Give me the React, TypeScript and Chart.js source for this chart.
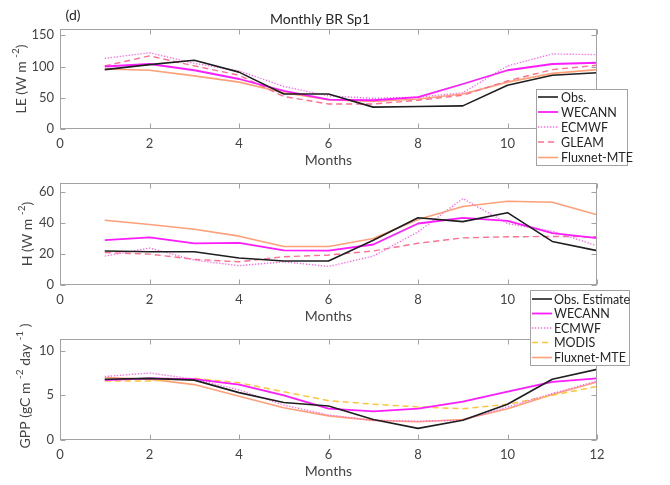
import React, { useEffect, useRef } from "react";
import { Chart, registerables } from "chart.js";

Chart.register(...registerables);

// ---------- data ----------
const months = [1, 2, 3, 4, 5, 6, 7, 8, 9, 10, 11, 12];
const xTickStep = 2;

// LE (W m-2)
const leObs = [95, 103, 110, 91, 56, 56, 35, 36, 37, 70, 86, 90];
const leWecann = [100, 104, 94, 80, 61, 47, 46, 51, 72, 94, 104, 106];
const leEcmwf = [113, 122, 105, 93, 68, 53, 49, 51, 58, 101, 120, 119];
const leGleam = [101, 117, 101, 86, 52, 40, 40, 46, 54, 77, 95, 102];
const leFlux = [96, 94, 85, 75, 58, 47, 44, 48, 56, 75, 89, 95];

// H (W m-2)
const hObs = [22, 21.5, 21.5, 17.5, 15.5, 15.5, 29, 43.5, 41, 46.8, 28.2, 22.2];
const hWecann = [29, 30.8, 26.9, 27.3, 22.4, 22.2, 26.2, 39.8, 43.4, 41.5, 33.5, 30.3];
const hEcmwf = [18.7, 23.9, 16.1, 12.5, 15, 12, 18.7, 34.4, 55.9, 39.8, 34.8, 25.4];
const hGleam = [21, 20, 16.6, 15, 18.3, 19.4, 22, 27, 30.5, 31.2, 31.4, 31.2];
const hFlux = [41.9, 39.1, 36.1, 31.6, 24.9, 24.9, 30.1, 42.4, 50.8, 54.2, 53.5, 45.4];

// GPP (gC m-2 day-1)
const gppObs = [6.8, 6.9, 6.7, 5.3, 4.2, 3.8, 2.3, 1.3, 2.2, 4.0, 6.8, 7.9];
const gppWecann = [6.7, 6.9, 6.8, 6.2, 5.0, 3.5, 3.2, 3.5, 4.3, 5.4, 6.5, 6.9];
const gppEcmwf = [7.1, 7.5, 6.8, 5.6, 3.9, 2.8, 2.2, 2.1, 2.2, 3.7, 5.2, 6.6];
const gppModis = [6.6, 6.6, 6.9, 6.4, 5.4, 4.4, 4.0, 3.7, 3.5, 4.0, 5.0, 6.0];
const gppFlux = [7.0, 6.8, 6.2, 4.9, 3.6, 2.7, 2.2, 2.05, 2.3, 3.5, 5.1, 6.5];

const titleText = "Monthly BR Sp1";
const panelTag = "(d)";
const xTitle = "Months";

// ---------- styles ----------
const FONT = "Lato, 'Open Sans', 'DejaVu Sans', sans-serif";
const AXIS_COLOR = "#a2a2a2";
const TICK_TEXT = "#444444";
const DARK_TEXT = "#262626";

const STYLE = {
  obs: { color: "#1e1e1e", width: 1.6, dash: [] as number[] },
  wecann: { color: "#ff1cff", width: 1.8, dash: [] as number[] },
  ecmwf: { color: "#ff66e6", width: 1.4, dash: [1.2, 1.8] },
  gleam: { color: "#ff6f90", width: 1.4, dash: [6, 4] },
  modis: { color: "#ffc53a", width: 1.5, dash: [6, 4] },
  flux: { color: "#ffa078", width: 1.6, dash: [] as number[] },
};

type Part = { t: string; sup?: boolean };
type Series = { label: string; data: number[]; style: { color: string; width: number; dash: number[] } };
type LegendBox = { left: number; top: number; right: number; bottom: number; rows: number[]; line0: number; line1: number; textX: number };
type Panel = {
  key: string;
  top: number;
  bottom: number;
  ymax: number;
  ystep: number;
  ylabel: Part[];
  ylabelX: number;
  ylabelY: number;
  series: Series[];
  legend: LegendBox;
  z: number;
  title?: boolean;
};

const PLOT_LEFT = 60;
const PLOT_RIGHT = 597;
const W = 670;
const H = 485;

const panels: Panel[] = [
  {
    key: "le",
    top: 29,
    bottom: 129,
    ymax: 160,
    ystep: 50,
    ylabel: [{ t: "LE (W m " }, { t: "-2", sup: true }, { t: ")" }],
    ylabelX: 21,
    ylabelY: 79,
    series: [
      { label: "Obs.", data: leObs, style: STYLE.obs },
      { label: "WECANN", data: leWecann, style: STYLE.wecann },
      { label: "ECMWF", data: leEcmwf, style: STYLE.ecmwf },
      { label: "GLEAM", data: leGleam, style: STYLE.gleam },
      { label: "Fluxnet-MTE", data: leFlux, style: STYLE.flux },
    ],
    legend: { left: 536, top: 89, right: 628, bottom: 166, rows: [97, 112, 127, 142, 157.5], line0: 538, line1: 558, textX: 561 },
    z: 1,
    title: true,
  },
  {
    key: "h",
    top: 183,
    bottom: 285,
    ymax: 66,
    ystep: 20,
    ylabel: [{ t: "H (W m " }, { t: "-2", sup: true }, { t: ")" }],
    ylabelX: 27,
    ylabelY: 234,
    series: [
      { label: "Obs. Estimate", data: hObs, style: STYLE.obs },
      { label: "WECANN", data: hWecann, style: STYLE.wecann },
      { label: "ECMWF", data: hEcmwf, style: STYLE.ecmwf },
      { label: "GLEAM", data: hGleam, style: STYLE.gleam },
      { label: "Fluxnet-MTE", data: hFlux, style: STYLE.flux },
    ],
    legend: { left: 530, top: 290, right: 630, bottom: 366, rows: [299, 313.5, 328, 342.5, 357.5], line0: 532, line1: 552, textX: 554 },
    z: 3,
  },
  {
    key: "gpp",
    top: 339,
    bottom: 440,
    ymax: 11.3,
    ystep: 5,
    ylabel: [{ t: "GPP (gC m " }, { t: "-2", sup: true }, { t: " day " }, { t: "-1", sup: true }, { t: " )" }],
    ylabelX: 25,
    ylabelY: 386,
    series: [
      { label: "Obs. Estimate", data: gppObs, style: STYLE.obs },
      { label: "WECANN", data: gppWecann, style: STYLE.wecann },
      { label: "ECMWF", data: gppEcmwf, style: STYLE.ecmwf },
      { label: "MODIS", data: gppModis, style: STYLE.modis },
      { label: "Fluxnet-MTE", data: gppFlux, style: STYLE.flux },
    ],
    legend: { left: 0, top: 0, right: 0, bottom: 0, rows: [], line0: 0, line1: 0, textX: 0 },
    z: 2,
  },
];

// legend of the GPP panel is the one drawn below the H panel
const legendOwners: Record<string, string> = { le: "le", h: "gpp" };

function drawRotatedLabel(ctx: CanvasRenderingContext2D, parts: Part[], cx: number, cy: number) {
  const base = `14px ${FONT}`;
  const small = `10px ${FONT}`;
  let total = 0;
  const widths = parts.map((p) => {
    ctx.font = p.sup ? small : base;
    const w = ctx.measureText(p.t).width;
    total += w;
    return w;
  });
  ctx.save();
  ctx.translate(cx, cy);
  ctx.rotate(-Math.PI / 2);
  ctx.fillStyle = TICK_TEXT;
  ctx.textBaseline = "middle";
  ctx.textAlign = "left";
  let x = -total / 2;
  parts.forEach((p, i) => {
    ctx.font = p.sup ? small : base;
    ctx.fillText(p.t, x, p.sup ? -5 : 0);
    x += widths[i];
  });
  ctx.restore();
}

function makePlugin(panel: Panel) {
  return {
    id: "frame_" + panel.key,
    afterDraw(chart: any) {
      const ctx: CanvasRenderingContext2D = chart.ctx;
      const a = chart.chartArea;
      const xs = chart.scales.x;
      const ys = chart.scales.y;
      const L = Math.round(a.left) + 0.5;
      const R = Math.round(a.right) - 0.5;
      const T = Math.round(a.top) + 0.5;
      const B = Math.round(a.bottom) - 0.5;
      ctx.save();
      ctx.strokeStyle = AXIS_COLOR;
      ctx.lineWidth = 1;
      ctx.setLineDash([]);
      ctx.strokeRect(L, T, R - L, B - T);
      const tl = 5;
      ctx.beginPath();
      xs.ticks.forEach((t: any) => {
        const px = Math.round(xs.getPixelForValue(t.value)) + 0.5;
        ctx.moveTo(px, B);
        ctx.lineTo(px, B - tl);
        ctx.moveTo(px, T);
        ctx.lineTo(px, T + tl);
      });
      ys.ticks.forEach((t: any) => {
        const py = Math.round(ys.getPixelForValue(t.value)) + 0.5;
        ctx.moveTo(L, py);
        ctx.lineTo(L + tl, py);
        ctx.moveTo(R, py);
        ctx.lineTo(R - tl, py);
      });
      ctx.stroke();

      // x title
      ctx.fillStyle = TICK_TEXT;
      ctx.font = `14px ${FONT}`;
      ctx.textAlign = "center";
      ctx.textBaseline = "middle";
      ctx.fillText(xTitle, (a.left + a.right) / 2, a.bottom + 31);

      // y title
      drawRotatedLabel(ctx, panel.ylabel, panel.ylabelX, panel.ylabelY);

      if (panel.title) {
        ctx.fillStyle = DARK_TEXT;
        ctx.font = `14px ${FONT}`;
        ctx.textAlign = "center";
        ctx.fillText(titleText, 320, 19);
        ctx.fillText(panelTag, 73, 15);
      }

      // legend
      const owner = legendOwners[panel.key];
      if (owner) {
        const src = panels.find((p) => p.key === owner)!;
        const lg = panel.legend;
        ctx.fillStyle = "#ffffff";
        ctx.fillRect(lg.left, lg.top, lg.right - lg.left, lg.bottom - lg.top);
        ctx.strokeStyle = AXIS_COLOR;
        ctx.lineWidth = 1;
        ctx.strokeRect(lg.left + 0.5, lg.top + 0.5, lg.right - lg.left - 1, lg.bottom - lg.top - 1);
        ctx.font = `12.5px ${FONT}`;
        ctx.textAlign = "left";
        ctx.textBaseline = "middle";
        src.series.forEach((s, i) => {
          const y = lg.rows[i];
          ctx.strokeStyle = s.style.color;
          ctx.lineWidth = s.style.width;
          ctx.setLineDash(s.style.dash);
          ctx.beginPath();
          ctx.moveTo(lg.line0, y);
          ctx.lineTo(lg.line1, y);
          ctx.stroke();
          ctx.setLineDash([]);
          ctx.fillStyle = DARK_TEXT;
          ctx.fillText(s.label, lg.textX, y + 0.5);
        });
      }
      ctx.restore();
    },
  };
}

function buildChart(canvas: HTMLCanvasElement, panel: Panel) {
  const xAxisH = 20;
  return new Chart(canvas, {
    type: "line",
    data: {
      datasets: panel.series.map((s) => ({
        label: s.label,
        data: months.map((m, i) => ({ x: m, y: s.data[i] })),
        borderColor: s.style.color,
        backgroundColor: s.style.color,
        borderWidth: s.style.width,
        borderDash: s.style.dash,
        borderJoinStyle: "round",
        pointRadius: 0,
        pointHoverRadius: 0,
        fill: false,
        tension: 0,
      })),
    },
    options: {
      animation: false,
      responsive: false,
      maintainAspectRatio: false,
      events: [],
      layout: {
        padding: {
          left: 0,
          right: W - PLOT_RIGHT,
          top: panel.top,
          bottom: H - panel.bottom - xAxisH,
        },
      },
      plugins: {
        legend: { display: false },
        tooltip: { enabled: false },
        title: { display: false },
      },
      scales: {
        x: {
          type: "linear",
          min: 0,
          max: 12,
          ticks: {
            stepSize: xTickStep,
            autoSkip: false,
            maxRotation: 0,
            includeBounds: false,
            padding: 7,
            color: TICK_TEXT,
            font: { family: FONT, size: 13 },
          },
          grid: { display: false, drawTicks: false },
          border: { display: false },
          afterFit: (s: any) => {
            s.height = xAxisH;
          },
        },
        y: {
          type: "linear",
          min: 0,
          max: panel.ymax,
          ticks: {
            stepSize: panel.ystep,
            includeBounds: false,
            padding: 6,
            color: TICK_TEXT,
            font: { family: FONT, size: 13 },
          },
          grid: { display: false, drawTicks: false },
          border: { display: false },
          afterFit: (s: any) => {
            s.width = PLOT_LEFT;
          },
        },
      },
    } as any,
    plugins: [makePlugin(panel)],
  });
}

export default function App() {
  const refs = [useRef<HTMLCanvasElement>(null), useRef<HTMLCanvasElement>(null), useRef<HTMLCanvasElement>(null)];

  useEffect(() => {
    const charts: Chart[] = [];
    panels.forEach((p, i) => {
      const c = refs[i].current;
      if (c) charts.push(buildChart(c, p));
    });
    return () => charts.forEach((c) => c.destroy());
  }, []);

  return (
    <div
      style={{
        position: "absolute",
        left: 0,
        top: 0,
        width: W,
        height: H,
        background: "#ffffff",
        overflow: "hidden",
      }}
    >
      {panels.map((p, i) => (
        <canvas
          key={p.key}
          ref={refs[i]}
          width={W}
          height={H}
          style={{ position: "absolute", left: 0, top: 0, zIndex: p.z }}
        />
      ))}
    </div>
  );
}
